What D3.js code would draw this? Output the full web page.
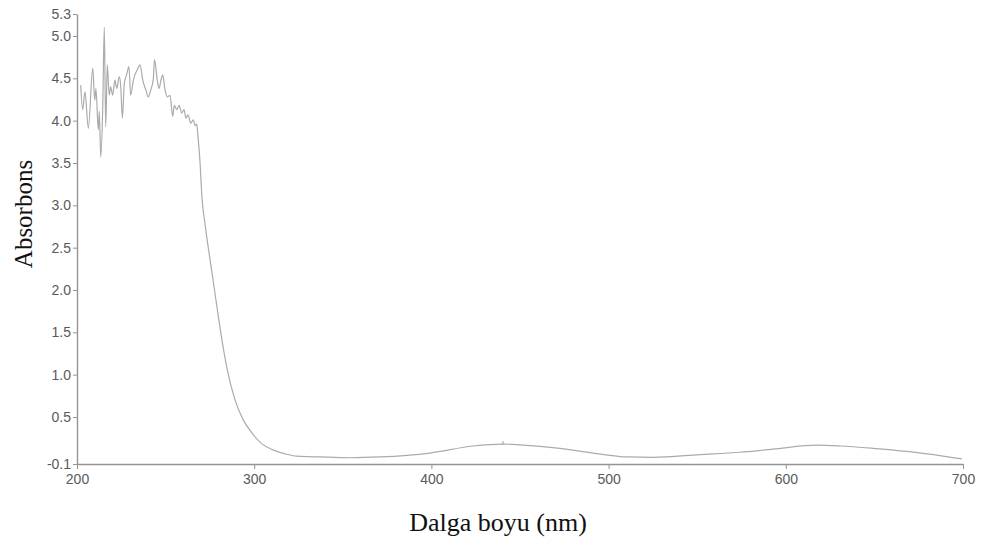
<!DOCTYPE html>
<html>
<head>
<meta charset="utf-8">
<script src="https://cdn.jsdelivr.net/npm/d3@7"></script>
<style>
  html, body { margin: 0; padding: 0; background: #fff; }
  svg { display: block; }
</style>
</head>
<body>
<svg id="chart" width="984" height="545"></svg>
<script>
// ---- data ----
const wavelength = [
  202.1, 203.2, 204.5, 206.4, 208.9, 210.0, 210.7, 212.0, 212.6, 213.4,
  214.5, 215.4, 216.2, 217.1, 218.2, 219.0, 220.1, 221.4, 222.4, 223.9,
  224.7, 225.6, 226.7, 228.0, 229.3, 230.3, 231.8, 234.0, 235.6, 237.1,
  238.9, 240.2, 241.6, 243.1, 243.7, 245.3, 246.3, 247.4, 248.4, 249.7,
  251.0, 252.5, 254.0, 254.9, 256.3, 257.6, 259.1, 260.4, 261.5, 262.6,
  264.2, 265.6, 266.8, 267.6, 268.1,
  269.3, 270.5, 272.5, 275.5, 278.3, 281.5, 284.5, 289.2, 293.9, 298.6,
  304.2, 310.6, 317.4, 324.0, 337.1, 354.1, 371.0, 399.2, 423.5, 440.4,
  450.0, 472.6, 491.2, 510.4, 525.1, 551.6, 574.2, 592.8, 617.6, 630.6,
  649.2, 668.4, 679.7, 699.4
];
const absorbance = [
  4.42, 4.13, 4.34, 3.91, 4.62, 4.24, 4.38, 3.89, 4.11, 3.57,
  4.13, 5.12, 3.93, 4.66, 4.30, 4.40, 4.30, 4.48, 4.38, 4.52,
  4.40, 4.03, 4.44, 4.54, 4.64, 4.30, 4.48, 4.60, 4.66, 4.48,
  4.36, 4.28, 4.36, 4.50, 4.72, 4.48, 4.38, 4.48, 4.54, 4.36,
  4.28, 4.30, 4.05, 4.18, 4.13, 4.18, 4.09, 4.13, 4.03, 4.07,
  3.97, 4.01, 3.94, 3.96, 3.85,
  3.55, 3.10, 2.74, 2.30, 1.90, 1.45, 1.09, 0.70, 0.46, 0.30,
  0.16, 0.08, 0.03, 0.00, -0.01, -0.02, -0.01, 0.04, 0.13, 0.155,
  0.145, 0.10, 0.04, -0.01, -0.015, 0.02, 0.05, 0.09, 0.14, 0.13,
  0.10, 0.06, 0.03, -0.035
];
const xTicks = [200, 300, 400, 500, 600, 700];
const yTicks = [-0.1, 0.5, 1.0, 1.5, 2.0, 2.5, 3.0, 3.5, 4.0, 4.5, 5.0, 5.3];
const peakMarks = [440.4];
const xTitle = "Dalga boyu (nm)";
const yTitle = "Absorbons";

// ---- drawing ----
const svg = d3.select("#chart");
const x = d3.scaleLinear().domain([200, 700]).range([77, 963]);
// the original y axis is not evenly spaced at its two end labels
const y = d3.scaleLinear().domain([-0.1, 0.5, 5.0, 5.3]).range([464, 417, 36, 14]);

const data = wavelength.map((w, i) => ({ w, a: absorbance[i] }));

const axisColor = "#959595";
const textColor = "#5a5a5a";

// x axis
const gx = svg.append("g")
  .attr("transform", `translate(0,${y(-0.1)})`)
  .call(d3.axisBottom(x).tickValues(xTicks).tickFormat(d3.format("d"))
        .tickSize(5).tickSizeOuter(0).tickPadding(5));
gx.select(".domain").attr("stroke", axisColor).attr("stroke-width", 1.6);
gx.selectAll(".tick line").attr("stroke", axisColor);
gx.selectAll(".tick text")
  .attr("fill", textColor)
  .style("font-family", "Arial, 'Liberation Sans', sans-serif")
  .style("font-size", "14px");

// y axis
const gy = svg.append("g")
  .attr("transform", `translate(${x(200)},0)`)
  .call(d3.axisLeft(y).tickValues(yTicks).tickFormat(d => d.toFixed(1))
        .tickSize(4).tickSizeOuter(0).tickPadding(2));
gy.select(".domain").attr("stroke", axisColor).attr("stroke-width", 1.4);
gy.selectAll(".tick line").attr("stroke", axisColor);
gy.selectAll(".tick text")
  .attr("fill", textColor)
  .style("font-family", "Arial, 'Liberation Sans', sans-serif")
  .style("font-size", "14px");

// spectrum line
const line = d3.line()
  .x(d => x(d.w))
  .y(d => y(d.a))
  .curve(d3.curveMonotoneX);
svg.append("path")
  .datum(data)
  .attr("fill", "none")
  .attr("stroke", "#ababab")
  .attr("stroke-width", 1.2)
  .attr("stroke-linejoin", "round")
  .attr("d", line);

// small peak marker
svg.selectAll(".peak")
  .data(peakMarks)
  .enter().append("line")
  .attr("class", "peak")
  .attr("x1", d => x(d)).attr("x2", d => x(d))
  .attr("y1", d => y(absorbance[wavelength.indexOf(d)]) - 3)
  .attr("y2", d => y(absorbance[wavelength.indexOf(d)]) + 1)
  .attr("stroke", "#a0a0a0")
  .attr("stroke-width", 1);

// axis titles
svg.append("text")
  .attr("x", 498).attr("y", 531)
  .attr("text-anchor", "middle")
  .style("font-family", "'Times New Roman', 'Liberation Serif', serif")
  .style("font-size", "26px")
  .attr("fill", "#111")
  .text(xTitle);

svg.append("text")
  .attr("transform", "translate(32,214) rotate(-90)")
  .attr("text-anchor", "middle")
  .style("font-family", "'Times New Roman', 'Liberation Serif', serif")
  .style("font-size", "25px")
  .attr("fill", "#111")
  .text(yTitle);
</script>
</body>
</html>
